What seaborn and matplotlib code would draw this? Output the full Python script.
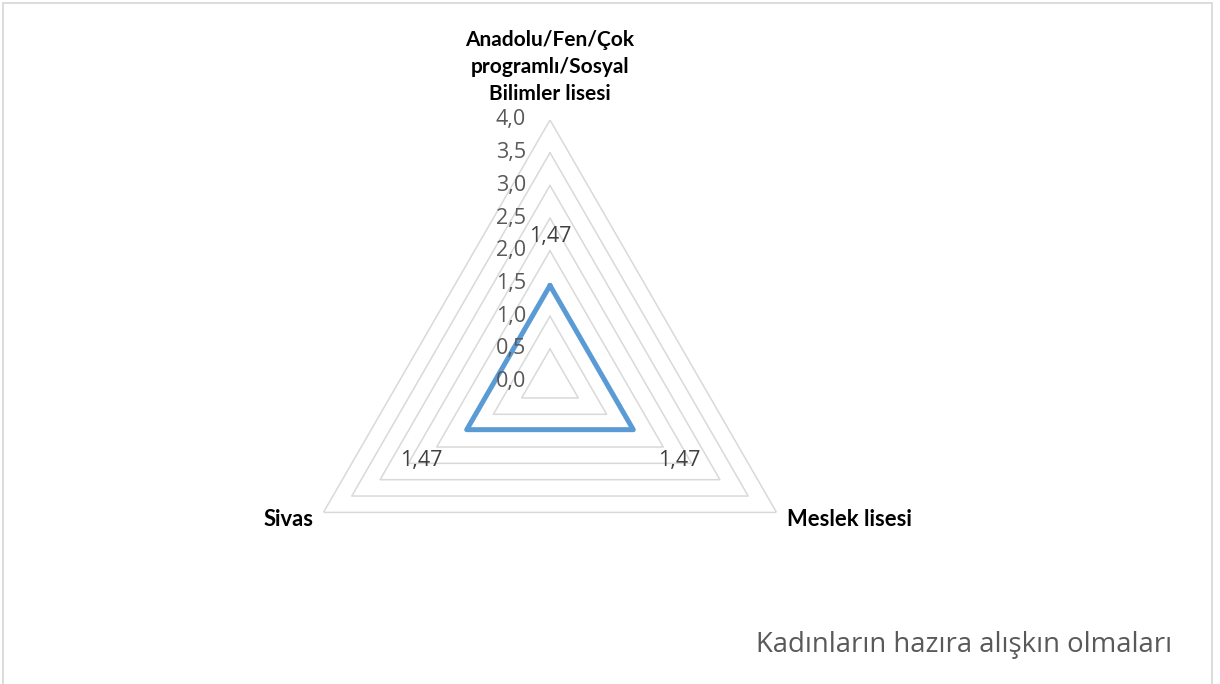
import numpy as np
import pandas as pd
import matplotlib
matplotlib.use("Agg")
import matplotlib.pyplot as plt
from matplotlib.patches import Rectangle
import seaborn as sns

# ---- data ----
categories = ["Anadolu/Fen/Çok\nprogramlı/Sosyal\nBilimler lisesi", "Meslek lisesi", "Sivas"]
values = [1.47, 1.47, 1.47]
tick_values = [0.0, 0.5, 1.0, 1.5, 2.0, 2.5, 3.0, 3.5, 4.0]
tick_labels = ["0,0", "0,5", "1,0", "1,5", "2,0", "2,5", "3,0", "3,5", "4,0"]
series_name = "Kadınların hazıra alışkın olmaları"

sns.set_theme(style="white")
plt.rcParams['font.family'] = ['Open Sans', 'DejaVu Sans']

W, H = 1220, 684
fig = plt.figure(figsize=(W / 100, H / 100), dpi=100)

# outer chart frame
fig.patches.append(Rectangle((3 / W, -0.02), (1212 - 3) / W, (684 - 3) / H + 0.02,
                             transform=fig.transFigure, fill=False,
                             edgecolor="#d9d9d9", linewidth=1.3))

cx, cy, R = 550, 684 - 381.6, 261.6
ax = fig.add_axes([(cx - R) / W, (cy - R) / H, 2 * R / W, 2 * R / H], projection="polar")
ax.set_theta_offset(np.pi / 2)
ax.set_theta_direction(-1)
ax.set_ylim(0, 4)
ax.set_axis_off()

n = len(categories)
theta = np.linspace(0, 2 * np.pi, n, endpoint=False)
theta_closed = np.append(theta, 2 * np.pi)

# grid rings (triangles)
for t in tick_values[1:]:
    ax.plot(theta_closed, [t] * (n + 1), color="#d9d9d9", lw=1.1, zorder=1)

# data polygon
df = pd.DataFrame({"theta": theta_closed, "r": values + values[:1]})
sns.lineplot(data=df, x="theta", y="r", sort=False, estimator=None, ax=ax,
             color="#5b9bd5", lw=3.6, zorder=3)
for l in ax.lines:
    l.set_solid_joinstyle("round")
ax.set_ylim(0, 4)
ax.set_axis_off()

px = 0.72  # pixels -> points
# tick labels
for t, lab in zip(tick_values, tick_labels):
    ax.annotate(lab, xy=(0, t), xytext=(-24 * px, 0), textcoords="offset points",
                ha="right", va="center", fontsize=15.5, color="#595959")

# data labels
offsets = [(0, 49), (46, -31), (-45, -31)]
for th, v, off in zip(theta, values, offsets):
    ax.annotate(f"{v:.2f}".replace(".", ","), xy=(th, v),
                xytext=(off[0] * px, off[1] * px), textcoords="offset points",
                ha="center", va="center", fontsize=15.5, color="#404040")

# category labels
cat_props = [((0, 16), "center", "bottom", 15), ((10, -7), "left", "center", 15.8),
             ((-10, -7), "right", "center", 15.8)]
for th, cat, (off, ha, va, fs) in zip(theta, categories, cat_props):
    ax.annotate(cat, xy=(th, 4), xytext=(off[0] * px, off[1] * px), textcoords="offset points",
                ha=ha, va=va, ma="center", fontsize=fs, fontweight="bold", color="black",
                family=["Lato", "DejaVu Sans"], linespacing=1.45)

fig.text(1172 / W, (684 - 645) / H, series_name, ha="right", va="center",
         fontsize=19.8, color="#595959")

fig.savefig("out.png", dpi=100)
